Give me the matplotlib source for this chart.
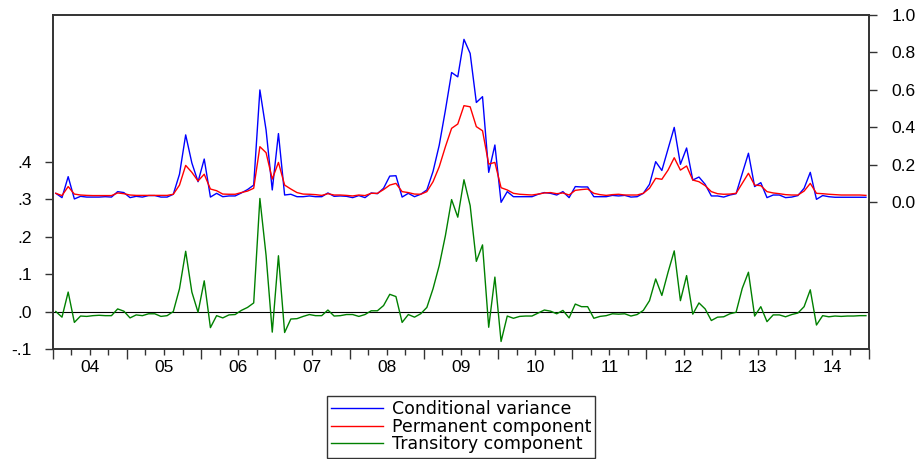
import numpy as np
import matplotlib
matplotlib.use('Agg')
import matplotlib.pyplot as plt
from matplotlib.lines import Line2D

plt.rcParams['font.family'] = ['Liberation Sans', 'DejaVu Sans']

# monthly observations, Jan 2004 - Dec 2014
start_year = 2004
n_years = 11

cond_var = [
    0.048, 0.025, 0.137, 0.018, 0.032, 0.028, 0.028, 0.028, 0.030, 0.028, 0.057, 0.052,  # 2004
    0.025, 0.032, 0.028, 0.036, 0.036, 0.028, 0.028, 0.043, 0.150, 0.360, 0.210, 0.110,  # 2005
    0.231, 0.028, 0.048, 0.030, 0.034, 0.034, 0.050, 0.068, 0.092, 0.600, 0.386, 0.066,  # 2006
    0.367, 0.039, 0.043, 0.030, 0.030, 0.034, 0.030, 0.030, 0.050, 0.032, 0.034, 0.032,  # 2007
    0.025, 0.036, 0.025, 0.050, 0.046, 0.075, 0.140, 0.142, 0.028, 0.048, 0.030, 0.043,  # 2008
    0.066, 0.165, 0.305, 0.492, 0.693, 0.670, 0.870, 0.795, 0.533, 0.564, 0.160, 0.306,  # 2009
    0.000, 0.057, 0.030, 0.030, 0.030, 0.030, 0.043, 0.052, 0.048, 0.039, 0.057, 0.025,  # 2010
    0.084, 0.082, 0.082, 0.030, 0.030, 0.030, 0.037, 0.034, 0.037, 0.028, 0.030, 0.048,  # 2011
    0.096, 0.217, 0.170, 0.284, 0.400, 0.203, 0.290, 0.119, 0.135, 0.096, 0.034, 0.034,  # 2012
    0.028, 0.039, 0.046, 0.155, 0.262, 0.084, 0.105, 0.025, 0.039, 0.039, 0.025, 0.028,  # 2013
    0.036, 0.075, 0.160, 0.016, 0.036, 0.030, 0.027, 0.027, 0.027, 0.027, 0.027, 0.027,  # 2014
]

permanent = [
    0.048, 0.036, 0.084, 0.044, 0.039, 0.037, 0.036, 0.036, 0.036, 0.036, 0.050, 0.046,
    0.039, 0.037, 0.037, 0.037, 0.037, 0.037, 0.037, 0.043, 0.092, 0.197, 0.160, 0.114,
    0.150, 0.071, 0.062, 0.044, 0.043, 0.043, 0.052, 0.060, 0.075, 0.297, 0.265, 0.124,
    0.213, 0.092, 0.071, 0.052, 0.044, 0.043, 0.041, 0.037, 0.046, 0.039, 0.039, 0.037,
    0.034, 0.039, 0.036, 0.048, 0.048, 0.068, 0.092, 0.101, 0.057, 0.052, 0.044, 0.043,
    0.057, 0.110, 0.190, 0.297, 0.395, 0.418, 0.516, 0.510, 0.404, 0.382, 0.204, 0.213,
    0.078, 0.066, 0.048, 0.043, 0.041, 0.039, 0.044, 0.050, 0.052, 0.046, 0.050, 0.039,
    0.064, 0.068, 0.071, 0.048, 0.041, 0.037, 0.041, 0.043, 0.039, 0.039, 0.039, 0.048,
    0.075, 0.128, 0.123, 0.172, 0.238, 0.172, 0.194, 0.119, 0.110, 0.089, 0.057, 0.046,
    0.043, 0.044, 0.048, 0.101, 0.155, 0.092, 0.089, 0.057, 0.050, 0.046, 0.041, 0.039,
    0.039, 0.060, 0.101, 0.048, 0.046, 0.043, 0.041, 0.039, 0.039, 0.039, 0.039, 0.037,
]

transitory = [
    0.000, -0.015, 0.052, -0.029, -0.012, -0.013, -0.011, -0.010, -0.011, -0.011, 0.007, 0.001,
    -0.017, -0.009, -0.011, -0.006, -0.006, -0.013, -0.011, 0.000, 0.061, 0.161, 0.052, -0.002,
    0.082, -0.043, -0.011, -0.017, -0.009, -0.008, 0.003, 0.011, 0.023, 0.302, 0.150, -0.055,
    0.149, -0.056, -0.020, -0.019, -0.013, -0.008, -0.011, -0.011, 0.004, -0.012, -0.011, -0.008,
    -0.008, -0.013, -0.008, 0.002, 0.002, 0.016, 0.046, 0.040, -0.029, -0.008, -0.015, -0.006,
    0.011, 0.061, 0.123, 0.203, 0.299, 0.252, 0.352, 0.283, 0.134, 0.178, -0.042, 0.092,
    -0.080, -0.012, -0.018, -0.013, -0.012, -0.012, -0.004, 0.004, 0.001, -0.006, 0.003, -0.017,
    0.020, 0.013, 0.013, -0.018, -0.013, -0.011, -0.006, -0.007, -0.006, -0.012, -0.008, 0.003,
    0.029, 0.087, 0.043, 0.105, 0.162, 0.029, 0.096, -0.007, 0.023, 0.007, -0.024, -0.015,
    -0.014, -0.006, -0.002, 0.062, 0.105, -0.012, 0.013, -0.027, -0.009, -0.009, -0.014, -0.008,
    -0.004, 0.013, 0.058, -0.036, -0.011, -0.014, -0.012, -0.013, -0.012, -0.012, -0.011, -0.011,
]

year_labels = ['04', '05', '06', '07', '08', '09', '10', '11', '12', '13', '14']

t = start_year + (np.arange(len(cond_var)) + 0.5) / 12.0

fig = plt.figure(figsize=(9.2, 4.59), dpi=100)
ax = fig.add_axes([0.0573, 0.2397, 0.8873, 0.7276])
ax2 = ax.twinx()

lw = 1.0
ax.axhline(0, color='black', lw=0.8, zorder=1)
ax.plot(t, transitory, color='#008000', lw=lw)
ax2.plot(t, cond_var, color='#0000ff', lw=lw)
ax2.plot(t, permanent, color='#ff0000', lw=lw)

ax.set_xlim(start_year, start_year + n_years)
ax.set_ylim(-0.1, 0.792)
ax2.set_ylim(-0.783, 1.0)

# left axis ticks
lt = [-0.1, 0.0, 0.1, 0.2, 0.3, 0.4]
ax.set_yticks(lt, ['-.1', '.0', '.1', '.2', '.3', '.4'])
# right axis ticks
rt = [0.0, 0.2, 0.4, 0.6, 0.8, 1.0]
ax2.set_yticks(rt, ['0.0', '0.2', '0.4', '0.6', '0.8', '1.0'])

# x ticks: year boundaries (major), quarters (minor), labels at mid-year
years = np.arange(start_year, start_year + n_years + 1)
ax.set_xticks(years, [''] * len(years))
qpos, qlab = [], []
for k, y in enumerate(range(start_year, start_year + n_years)):
    for q in (0.25, 0.5, 0.75):
        qpos.append(y + q)
        qlab.append(year_labels[k] if q == 0.5 else '')
ax.set_xticks(qpos, qlab, minor=True)

ax.tick_params(axis='x', which='major', direction='out', length=7, width=1, colors='#333333')
ax.tick_params(axis='x', which='minor', direction='out', length=4, width=1, colors='#333333',
               labelcolor='black', labelsize=12.5, pad=4)
ax.tick_params(axis='y', direction='out', length=6, width=1, colors='#333333',
               labelcolor='black', labelsize=12.5, pad=9)
ax2.tick_params(axis='y', direction='out', length=6, width=1, colors='#333333',
                labelcolor='black', labelsize=12.5, pad=10)

for a in (ax, ax2):
    for s in a.spines.values():
        s.set_color('#333333')
        s.set_linewidth(1.2)

handles = [Line2D([], [], color='#0000ff', lw=lw),
           Line2D([], [], color='#ff0000', lw=lw),
           Line2D([], [], color='#008000', lw=lw)]
leg = fig.legend(handles, ['Conditional variance', 'Permanent component', 'Transitory component'],
                 loc='upper center', bbox_to_anchor=(0.501, 1 - 396 / 459),
                 prop={'family': 'DejaVu Sans', 'size': 12.5},
                 frameon=True, fancybox=False, edgecolor='#333333', framealpha=1,
                 handlelength=3.0, handletextpad=0.5, labelspacing=-0.03,
                 borderpad=0.25, borderaxespad=0)
leg.get_frame().set_linewidth(1.0)

plt.savefig('out.png', dpi=100)
